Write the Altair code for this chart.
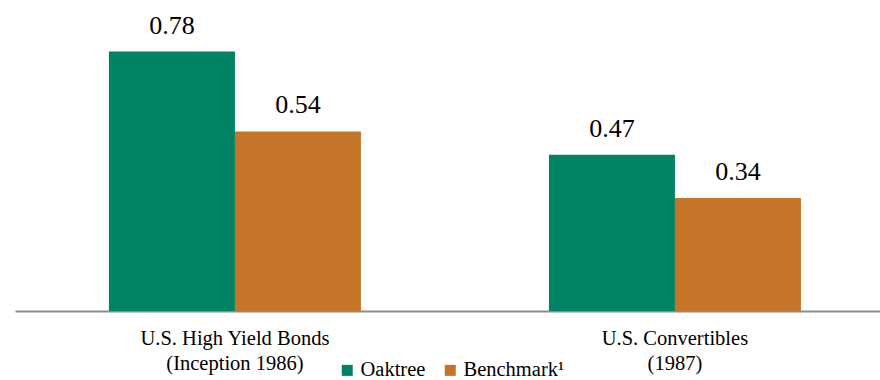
import altair as alt
import pandas as pd

# Categories (two-line axis labels separated by "|"), series and values
categories = ["U.S. High Yield Bonds|(Inception 1986)", "U.S. Convertibles|(1987)"]
series = ["Oaktree", "Benchmark¹"]
oaktree_values = [0.78, 0.47]
benchmark_values = [0.54, 0.34]
colors = ["#008264", "#C47528"]

rows = []
for i, cat in enumerate(categories):
    rows.append({"category": cat, "series": series[0], "value": oaktree_values[i]})
    rows.append({"category": cat, "series": series[1], "value": benchmark_values[i]})
df = pd.DataFrame(rows)

FONT = "Liberation Serif"

x_enc = alt.X(
    "category:N",
    sort=categories,
    title=None,
    scale=alt.Scale(paddingInner=0.4273, paddingOuter=0.1966, align=0.543),
    axis=alt.Axis(
        labelExpr="split(datum.label, '|')",
        labelAngle=0,
        labelFont=FONT,
        labelFontSize=20.5,
        labelColor="#000000",
        labelLineHeight=25,
        labelPadding=17,
        labelLimit=400,
        ticks=False,
        domainColor="#8c8c8c",
        domainWidth=2,
        grid=False,
    ),
)
xoff = alt.XOffset("series:N", sort=series)
y_enc = alt.Y("value:Q", scale=alt.Scale(domain=[0, 0.935], nice=False), axis=None)

bars = alt.Chart(df).mark_bar(size=126).encode(
    x=x_enc,
    xOffset=xoff,
    y=y_enc,
    color=alt.Color(
        "series:N",
        sort=series,
        scale=alt.Scale(domain=series, range=colors),
        legend=alt.Legend(
            title=None,
            orient="none",
            legendX=322,
            legendY=360,
            direction="horizontal",
            columns=2,
            symbolType="square",
            symbolSize=121,
            symbolStrokeWidth=0,
            labelFont=FONT,
            labelFontSize=20.5,
            labelColor="#000000",
            labelOffset=3,
            columnPadding=14,
            padding=0,
        ),
    ),
)

labels = alt.Chart(df).mark_text(baseline="alphabetic", dy=-18).encode(
    x=alt.X("category:N", sort=categories),
    xOffset=xoff,
    y=y_enc,
    text=alt.Text("value:Q", format=".2f"),
)

chart = (
    alt.layer(bars, labels)
    .properties(
        width=865,
        height=311,
        padding={"left": 15, "top": 0, "right": 0, "bottom": 69},
        autosize=alt.AutoSizeParams(type="none"),
    )
    .configure(background="#ffffff", font=FONT)
    .configure_view(stroke=None)
    .configure_text(font=FONT, fontSize=26, color="#000000")
    .configure_legend(labelFont=FONT, labelFontSize=20.5)
)

chart.save("out.html", embed_options={"renderer": "svg", "actions": False})
